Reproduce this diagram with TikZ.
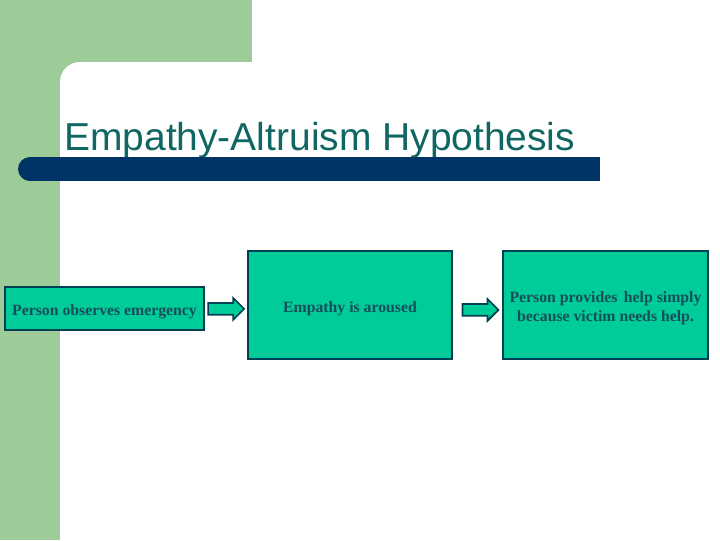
\documentclass[tikz,border=0pt]{standalone}
\usepackage{fontspec}
\setmainfont{Liberation Serif}
\setsansfont{Liberation Sans}
\usetikzlibrary{shapes.arrows,calc}
\definecolor{slidegreen}{RGB}{158,204,153}
\definecolor{titleteal}{RGB}{16,102,98}
\definecolor{barblue}{RGB}{0,51,102}
\definecolor{boxfill}{RGB}{0,204,153}
\definecolor{boxline}{RGB}{0,64,82}
\definecolor{boxtext}{RGB}{22,78,90}
\tikzstyle{stage}=[draw=boxline, line width=1.4pt, fill=boxfill, inner sep=0pt]
\tikzstyle{stage text}=[text=boxtext, font=\bfseries\fontsize{11.2}{13.5}\selectfont, align=center, inner sep=0pt, yshift=-2.5pt]
\tikzstyle{flow arrow}=[single arrow, draw=boxline, line width=1.2pt, fill=boxfill, inner sep=0.125cm, single arrow head extend=0.125cm, minimum height=0.9cm]

\begin{document}
\begin{tikzpicture}[x=0.025cm, y=-0.025cm]
  % slide background
  \fill[white] (0,0) rectangle (720,540);
  \fill[slidegreen] (0,0) rectangle (252,62);
  \fill[slidegreen] (0,0) rectangle (60,540);
  \fill[slidegreen] (60,62) rectangle (90,92);
  \fill[white, rounded corners=0.5cm] (60,62) rectangle (280,220);

  % title and bar
  \node[anchor=base west, inner sep=0pt, text=titleteal, font=\sffamily\fontsize{27.7}{32}\selectfont] (title) at (64,150) {Empathy-Altruism Hypothesis};
  \fill[barblue] (30,157) rectangle (600,181);
  \fill[barblue] (30,169) circle[radius=0.3cm];

  % stages
  \node[stage, minimum width=4.975cm, minimum height=1.075cm, label={[stage text]center:Person observes emergency}] (obs) at (104.5,308.5) {};
  \node[stage, minimum width=5.1cm, minimum height=2.7cm, label={[stage text]center:Empathy is aroused}] (aroused) at (350,305) {};
  \node[stage, minimum width=5.125cm, minimum height=2.7cm, label={[stage text]center:{Person provides\, help simply\\because victim needs help.}}] (helps) at (605.5,305) {};

  % arrows between stages
  \node[flow arrow, xshift=-2pt, yshift=-1.5pt] (arrowA) at ($(obs.east)!0.5!(aroused.west)$) {};
  \node[flow arrow, yshift=-3.5pt] (arrowB) at ($(aroused.east)!0.5!(helps.west)$) {};
\end{tikzpicture}
\end{document}
